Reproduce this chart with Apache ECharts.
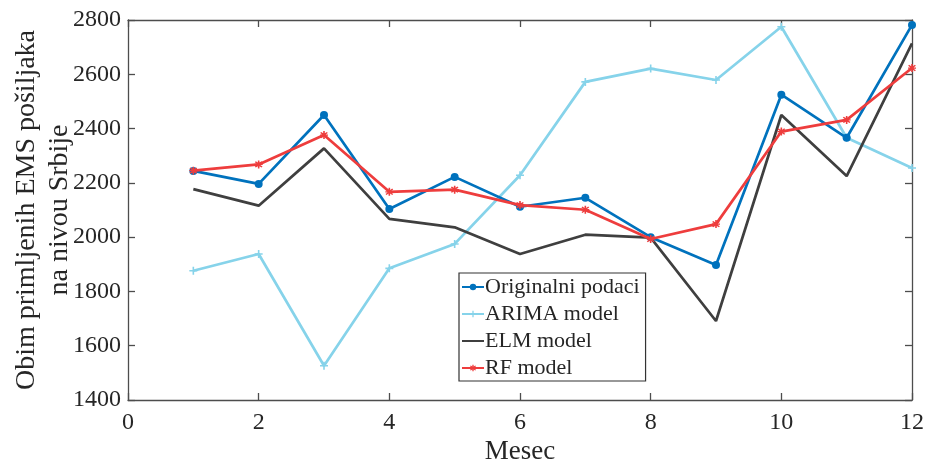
<!DOCTYPE html>
<html><head><meta charset="utf-8">
<script src="https://cdn.jsdelivr.net/npm/echarts@6/dist/echarts.min.js"></script>
<style>html,body{margin:0;padding:0;background:#fff}#c{width:927px;height:463px}</style>
</head><body><div id="c"></div>
<script>
const months = [1,2,3,4,5,6,7,8,9,10,11,12];
const original = [2244,2196,2450,2104,2222,2112,2145,2000,1897,2525,2366,2782];
const arima    = [1876,1938,1526,1885,1975,2228,2572,2621,2579,2775,2366,2255];
const elm      = [2177,2116,2327,2067,2036,1938,2009,1998,1691,2450,2225,2714];
const rf       = [2245,2268,2376,2167,2175,2118,2101,1993,2048,2389,2432,2623];
const xTicks = [0,2,4,6,8,10,12];
const yTicks = [1400,1600,1800,2000,2200,2400,2600,2800];

const FONT = "'Liberation Serif', 'DejaVu Serif', serif";
const TXT = '#262626';
const AX = '#4d4d4d';
const plus = 'path://M4,0h2v4h4v2h-4v4h-2v-4h-4v-2h4z';
const star = 'path://M4,0h2v3.3l2.6-2.1l1.2,1.5l-2.8,2.3h3v2h-3l2.8,2.3l-1.2,1.5l-2.6-2.1v3.3h-2v-3.3l-2.6,2.1l-1.2-1.5l2.8-2.3h-3v-2h3l-2.8-2.3l1.2-1.5l2.6,2.1z';

function pts(arr){ return months.map((m,i)=>[m,arr[i]]); }
const fmt = v => String(v);

const chart = echarts.init(document.getElementById('c'), null, {renderer:'canvas'});
chart.setOption({
  animation:false,
  textStyle:{fontFamily:FONT},
  grid:{left:128,right:15,top:20,bottom:63,containLabel:false,outerBoundsMode:'none'},
  xAxis:[{
    type:'value',min:xTicks[0],max:xTicks[xTicks.length-1],interval:2,
    name:'Mesec',nameLocation:'middle',nameGap:38,nameMoveOverlap:false,
    nameTextStyle:{fontFamily:FONT,fontSize:27,color:TXT},
    axisLine:{show:true,onZero:false,lineStyle:{color:AX,width:1.3}},
    axisTick:{show:true,inside:true,length:7,lineStyle:{color:AX,width:1.3}},
    axisLabel:{fontFamily:FONT,fontSize:24,color:TXT,margin:11,formatter:fmt},
    splitLine:{show:false}
  },{
    type:'value',position:'top',min:0,max:12,interval:2,
    axisLine:{show:true,onZero:false,lineStyle:{color:AX,width:1.3}},
    axisTick:{show:true,inside:true,length:7,lineStyle:{color:AX,width:1.3}},
    axisLabel:{show:false},splitLine:{show:false}
  }],
  yAxis:[{
    type:'value',min:yTicks[0],max:yTicks[yTicks.length-1],interval:200,
    name:'Obim primljenih EMS pošiljaka\nna nivou Srbije',nameLocation:'middle',nameGap:52,nameRotate:90,nameMoveOverlap:false,
    nameTextStyle:{fontFamily:FONT,fontSize:28,color:TXT,lineHeight:33,align:'center'},
    axisLine:{show:true,onZero:false,lineStyle:{color:AX,width:1.3}},
    axisTick:{show:true,inside:true,length:7,lineStyle:{color:AX,width:1.3}},
    axisLabel:{fontFamily:FONT,fontSize:24,color:TXT,margin:7,formatter:fmt},
    splitLine:{show:false}
  },{
    type:'value',position:'right',min:1400,max:2800,interval:200,
    axisLine:{show:true,onZero:false,lineStyle:{color:AX,width:1.3}},
    axisTick:{show:true,inside:true,length:7,lineStyle:{color:AX,width:1.3}},
    axisLabel:{show:false},splitLine:{show:false}
  }],
  legend:{
    orient:'vertical',left:459,top:273,
    itemWidth:22,itemHeight:8,itemGap:5,
    padding:[3,6,2,2],
    borderColor:'#333',borderWidth:1.2,backgroundColor:'#fff',
    textStyle:{fontFamily:FONT,fontSize:22,color:TXT,padding:[0,0,0,-4]},
    data:['Originalni podaci','ARIMA model',{name:'ELM model',itemStyle:{opacity:0}},'RF model']
  },
  series:[
    {name:'ARIMA model',type:'line',data:pts(arima),symbol:plus,symbolSize:8,
     lineStyle:{color:'#86d3ea',width:2.7},itemStyle:{color:'#86d3ea'},z:2},
    {name:'ELM model',type:'line',data:pts(elm),symbol:'none',
     lineStyle:{color:'#3f3f3f',width:2.7},itemStyle:{color:'#3f3f3f'},z:3},
    {name:'RF model',type:'line',data:pts(rf),symbol:star,symbolSize:8,
     lineStyle:{color:'#ee3d3d',width:2.7},itemStyle:{color:'#ee3d3d'},z:5},
    {name:'Originalni podaci',type:'line',data:pts(original),symbol:'circle',symbolSize:8,
     lineStyle:{color:'#0072bd',width:2.7},itemStyle:{color:'#0072bd'},z:4}
  ]
});
</script></body></html>
